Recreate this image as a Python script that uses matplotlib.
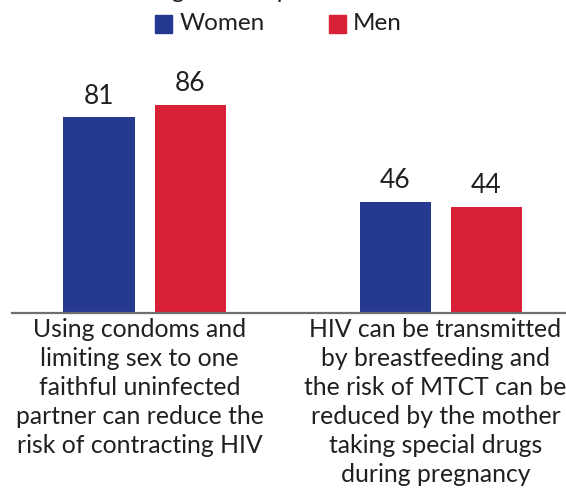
import matplotlib
matplotlib.use("Agg")
import matplotlib.pyplot as plt
from matplotlib.patches import Rectangle
from matplotlib.transforms import offset_copy

plt.rcParams['font.family'] = ['Lato', 'DejaVu Sans']

categories = [
    "Using condoms and\nlimiting sex to one\nfaithful uninfected\npartner can reduce the\nrisk of contracting HIV",
    "HIV can be transmitted\nby breastfeeding and\nthe risk of MTCT can be\nreduced by the mother\ntaking special drugs\nduring pregnancy",
]
series_names = ["Women", "Men"]
women = [81, 46]
men = [86, 44]
title = "Knowledge of HIV prevention methods"

colors = ["#253990", "#d82036"]
text_color = "#231f20"

W, H = 566, 491
fig = plt.figure(figsize=(W / 100, H / 100), dpi=100)

# axes box in pixel terms: left 12, right 566, baseline at y=313 from top
ax_left, ax_right = 12, 566
ax_bottom_px = 313
ax_height_px = 242
ax = fig.add_axes([ax_left / W, 1 - ax_bottom_px / H,
                   (ax_right - ax_left) / W, ax_height_px / H])

group_spacing = 296.0
bar_w = 71 / group_spacing
offset = 45.5 / group_spacing
x0 = [0, 1]

for i, (vals, name) in enumerate(zip([women, men], series_names)):
    xs = [x + (-offset if i == 0 else offset) for x in x0]
    bars = ax.bar(xs, vals, width=bar_w, color=colors[i], zorder=2)
    for b, v in zip(bars, vals):
        ax.text(b.get_x() + b.get_width() / 2, v + 3.5, f"{v}",
                ha="center", va="bottom", fontsize=19, color=text_color)

ax.set_xlim((ax_left - 144.5) / group_spacing, (ax_right - 144.5) / group_spacing)
ax.set_ylim(0, 100)
for s in ["top", "right", "left"]:
    ax.spines[s].set_visible(False)
ax.spines["bottom"].set_color("#6d6e71")
ax.spines["bottom"].set_linewidth(1.6)
ax.spines["bottom"].set_zorder(3)
ax.set_yticks([])
ax.set_xticks(x0)
ax.set_xticklabels([])
ax.tick_params(axis="x", length=0)

# category labels, nudged slightly left of each group centre
label_tf = offset_copy(ax.get_xaxis_transform(), fig=fig, x=-5, y=-5,
                       units="dots")
for x, lab in zip(x0, categories):
    ax.text(x, 0, lab, transform=label_tf, ha="center", va="top",
            multialignment="center", fontsize=17.8, color=text_color,
            linespacing=1.32)

# legend drawn in figure pixel coordinates
def px(x, y):
    return x / W, 1 - y / H

for (sx, tx), name, c in zip([(155, 180), (329, 353)], series_names, colors):
    fig.patches.append(Rectangle(px(sx, 33), 17 / W, 18 / H, color=c,
                                 transform=fig.transFigure, figure=fig))
    fig.text(*px(tx, 24), name, ha="left", va="center", fontsize=17.5,
             color=text_color)

fig.text(*px(283, -2), title, ha="center", va="baseline", fontsize=17,
         color=text_color)

fig.savefig("out.png", dpi=100)
